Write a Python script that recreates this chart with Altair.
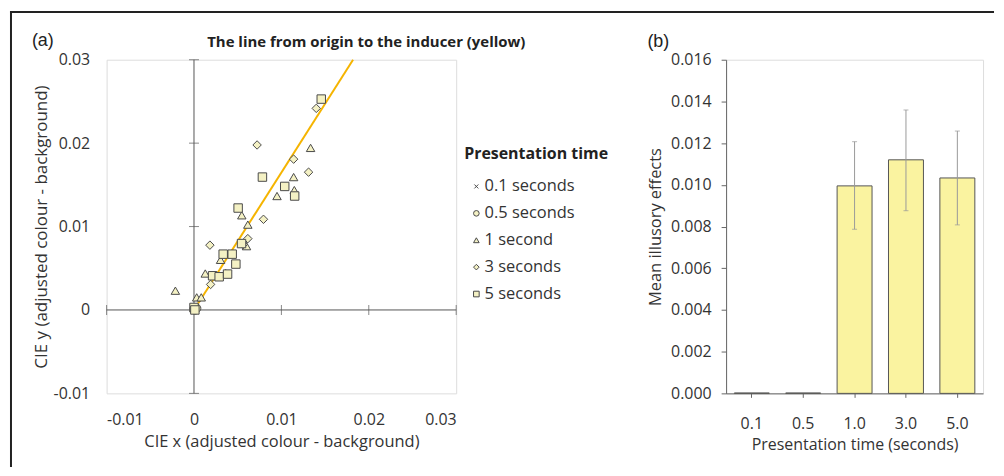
import altair as alt
import pandas as pd

FONT = "Open Sans"
TIMES = ["0.1 seconds", "0.5 seconds", "1 second", "3 seconds", "5 seconds"]

# scatter values (CIE x, CIE y) per presentation time
x_01 = [0.0, 0.0001, 0.0002]
y_01 = [0.0, 0.0001, 0.0003]
x_05 = [0.0, 0.0001, 0.0003]
y_05 = [0.0001, 0.0, 0.0002]
x_1 = [0.01334, 0.0114, 0.0095, 0.01148, 0.00547, 0.00616, 0.00601, 0.00304,
       0.00129, -0.00213, 0.00031, 0.00083, 0.0]
y_1 = [0.01943, 0.01593, 0.01366, 0.01437, 0.01135, 0.01023, 0.00765, 0.00601,
       0.00437, 0.00231, 0.00151, 0.00151, 0.0002]
x_3 = [0.01399, 0.00722, 0.0114, 0.01311, 0.00795, 0.00616, 0.00182, 0.00562,
       0.00365, 0.0019, 0.0001]
y_3 = [0.02417, 0.01978, 0.01808, 0.01652, 0.01087, 0.00855, 0.00777, 0.00784,
       0.00434, 0.00306, 0.0001]
x_5 = [0.01456, 0.00783, 0.01038, 0.01152, 0.00505, 0.00544, 0.00334, 0.00437,
       0.00479, 0.00213, 0.00288, 0.00384, 0.0, 0.0001]
y_5 = [0.02528, 0.01593, 0.01481, 0.01366, 0.01222, 0.00796, 0.00669, 0.00669,
       0.0055, 0.0041, 0.00398, 0.0043, 0.0003, 0.0]

# inducer line
line_x = [0.0, 0.0182]
line_y = [0.0, 0.03]

AX_TICKS = [-0.01, 0.0, 0.01, 0.02, 0.03]
CROSS_TICKS = [-0.01, 0.01, 0.02, 0.03]

# bar chart
bar_cats = ["0.1", "0.5", "1.0", "3.0", "5.0"]
bar_means = [0.00002, 0.00002, 0.00995, 0.0112, 0.01033]
err_cats = ["1.0", "3.0", "5.0"]
err_lo = [0.00787, 0.00876, 0.00808]
err_hi = [0.01207, 0.01359, 0.01258]
BAR_TICKS = [0.0, 0.002, 0.004, 0.006, 0.008, 0.010, 0.012, 0.014, 0.016]

rows = []
for t, xs_, ys_ in zip(TIMES, [x_01, x_05, x_1, x_3, x_5], [y_01, y_05, y_1, y_3, y_5]):
    for a, b in zip(xs_, ys_):
        rows.append({"x": a, "y": b, "time": t})
pts = pd.DataFrame(rows)

MFILL = "#F4F1C4"
MSTROKE = "#4a4a4a"

xs = alt.Scale(domain=[-0.01, 0.03], nice=False, zero=False)
ys = alt.Scale(domain=[-0.01, 0.03], nice=False, zero=False)
lab = "datum.value == 0 ? '0' : (datum.value < 0 ? '-' : '') + format(abs(datum.value), '.2f')"

xaxis = alt.Axis(values=AX_TICKS, domain=False, ticks=False, grid=False, labelExpr=lab,
                 labelFont=FONT, labelFontSize=16, labelColor="#333", labelPadding=18,
                 title="CIE x (adjusted colour - background)", titleFont=FONT,
                 titleFontSize=16.5, titleFontWeight="normal", titleColor="#333", titlePadding=6)
yaxis = alt.Axis(values=AX_TICKS, domain=False, ticks=False, grid=False, labelExpr=lab,
                 labelFont=FONT, labelFontSize=16, labelColor="#333", labelPadding=17,
                 title="CIE y (adjusted colour - background)", titleFont=FONT,
                 titleFontSize=17, titleFontWeight="normal", titleColor="#333", titlePadding=3)

base_x = alt.X("x:Q", scale=xs, axis=xaxis)
base_y = alt.Y("y:Q", scale=ys, axis=yaxis)

hline = alt.Chart(pd.DataFrame({"x": [AX_TICKS[0]], "x2": [AX_TICKS[-1]], "y": [0.0]})).mark_rule(
    color="#555", strokeWidth=1).encode(x=base_x, x2="x2:Q", y=base_y)
vline = alt.Chart(pd.DataFrame({"y": [AX_TICKS[0]], "y2": [AX_TICKS[-1]], "x": [0.0]})).mark_rule(
    color="#555", strokeWidth=1).encode(x=base_x, y=base_y, y2="y2:Q")
hticks = alt.Chart(pd.DataFrame({"x": CROSS_TICKS, "y": [0.0] * 4})).mark_tick(
    orient="vertical", size=10, thickness=1, color="#555").encode(x=base_x, y=base_y)
vticks = alt.Chart(pd.DataFrame({"y": CROSS_TICKS, "x": [0.0] * 4})).mark_tick(
    orient="horizontal", size=10, thickness=1, color="#555").encode(x=base_x, y=base_y)
ind_line = alt.Chart(pd.DataFrame({"x": line_x, "y": line_y})).mark_line(
    color="#F5B400", strokeWidth=2).encode(x=base_x, y=base_y)

XPATH = "M-0.7,-0.7L0.7,0.7M-0.7,0.7L0.7,-0.7"
leg = alt.Legend(title=None, orient="none", legendX=363, legendY=119,
                 padding=0, labelFont=FONT, labelFontSize=16.5,
                 labelColor="#333", symbolSize=32, symbolStrokeWidth=1,
                 labelOffset=0, rowPadding=10)
shape_scale = alt.Scale(domain=TIMES, range=[XPATH, "circle", "triangle-up", "diamond", "square"])
stroke_scale = alt.Scale(domain=TIMES, range=[MSTROKE] * 5)
fill_scale = alt.Scale(domain=TIMES, range=[MFILL] * 5)
points = alt.Chart(pts).mark_point(filled=False, strokeWidth=1, size=72, opacity=1,
                                   fillOpacity=1).encode(
    x=base_x, y=base_y,
    shape=alt.Shape("time:N", scale=shape_scale, sort=TIMES, legend=leg),
    stroke=alt.Stroke("time:N", scale=stroke_scale, sort=TIMES, legend=leg),
    fill=alt.Fill("time:N", scale=fill_scale, sort=TIMES, legend=leg),
)

def txt(s, x, y, size, weight="normal", font=FONT, align="left"):
    return alt.Chart(pd.DataFrame({"t": [s]})).mark_text(
        font=font, fontSize=size, fontWeight=weight, color="#222", align=align,
        baseline="alphabetic").encode(x=alt.value(x), y=alt.value(y), text="t:N")

a_lbl = txt("(a)", -75, -14, 18, font="Liberation Sans")
title = txt("The line from origin to the inducer (yellow)", 101, -13, 15, weight="bold")
leg_title = txt("Presentation time", 359, 100, 16, weight="bold")

dummy = pd.DataFrame({"d": [0]})
left_border = alt.Chart(dummy).mark_rule(color="#222", strokeWidth=2).encode(
    x=alt.value(-96), y=alt.value(-49), y2=alt.value(409))
top_border = alt.Chart(dummy).mark_rule(color="#222", strokeWidth=2).encode(
    x=alt.value(-97), x2=alt.value(891), y=alt.value(-48))

left = alt.layer(hline, vline, hticks, vticks, ind_line, points, a_lbl, title, leg_title,
                 left_border, top_border).properties(width=351, height=335)

# bar chart
bars_df = pd.DataFrame({"cat": bar_cats, "mean": bar_means})
err_df = pd.DataFrame({"cat": err_cats, "lo": err_lo, "hi": err_hi})

bx = alt.X("cat:O", sort=bar_cats, scale=alt.Scale(paddingInner=0.32, paddingOuter=0.16),
           axis=alt.Axis(labelAngle=0, domainColor="#666", tickColor="#666", tickSize=4,
                         labelFont=FONT, labelFontSize=16, labelColor="#333", labelPadding=18,
                         title="Presentation time (seconds)", titleFont=FONT, titleFontSize=16,
                         titleFontWeight="normal", titleColor="#333", titlePadding=5))
by_scale = alt.Scale(domain=[0, 0.016], nice=False)
by_axis = alt.Axis(values=BAR_TICKS, format=".3f", grid=False, domainColor="#666",
                   tickColor="#666", tickSize=5, labelFont=FONT, labelFontSize=16,
                   labelColor="#333", labelPadding=10, title="Mean illusory effects",
                   titleFont=FONT, titleFontSize=16.5, titleFontWeight="normal",
                   titleColor="#333", titlePadding=7)

bars = alt.Chart(bars_df).mark_bar(fill="#FAF3A0", stroke="#555", strokeWidth=1).encode(
    x=bx, y=alt.Y("mean:Q", scale=by_scale, axis=by_axis))
err_rule = alt.Chart(err_df).mark_rule(color="#999", strokeWidth=1).encode(
    x=alt.X("cat:O", sort=bar_cats), y=alt.Y("lo:Q", scale=by_scale), y2="hi:Q")
cap_lo = alt.Chart(err_df).mark_tick(color="#999", thickness=1, size=5, orient="horizontal").encode(
    x=alt.X("cat:O", sort=bar_cats), y=alt.Y("lo:Q", scale=by_scale))
cap_hi = alt.Chart(err_df).mark_tick(color="#999", thickness=1, size=5, orient="horizontal").encode(
    x=alt.X("cat:O", sort=bar_cats), y=alt.Y("hi:Q", scale=by_scale))
b_lbl = txt("(b)", -79, -13, 18, font="Liberation Sans")

right = alt.layer(bars, err_rule, cap_lo, cap_hi, b_lbl).properties(width=258, height=335)

chart = alt.hconcat(left, right, spacing=271, bounds="flush").properties(
    padding={"left": 0, "top": 0, "right": 0, "bottom": 0}
).configure_view(stroke=None).configure(background="white")

chart.save("out.html", embed_options={"renderer": "svg", "actions": False})
